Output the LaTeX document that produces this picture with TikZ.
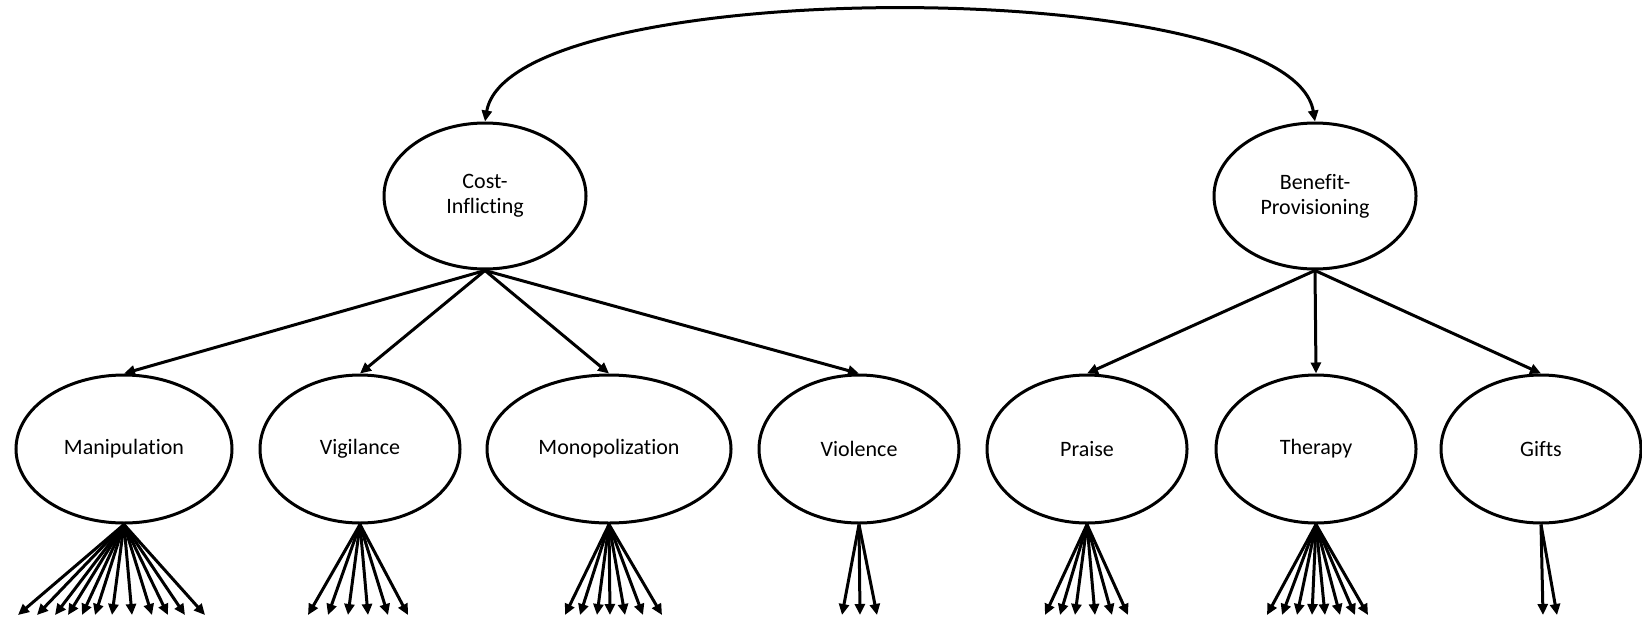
\documentclass[tikz,border=0pt]{standalone}
\usepackage{fontspec}
\setmainfont[Ligatures=NoCommon]{Carlito}
\usetikzlibrary{arrows.meta,shapes.geometric}
\begin{document}
\begin{tikzpicture}[x=0.5pt,y=-0.5pt,
  latent/.style={draw, line width=1.5pt, ellipse, inner sep=0pt, align=center,
    font=\fontsize{11}{12.5}\selectfont},
  arr/.style={line width=1.5pt, -{Triangle[length=5.5pt,width=5pt]}},
  darr/.style={line width=1.5pt, {Triangle[length=5.5pt,width=5pt]}-{Triangle[length=5.5pt,width=5pt]}}]
\useasboundingbox (0,0) rectangle (1642,621);
% top level
\node[latent, minimum width=101pt, minimum height=73pt] (cost) at (485,196) {Cost-\\Inflicting};
\node[latent, minimum width=101pt, minimum height=73pt] (ben) at (1315,196) {Benefit-\\Provisioning};
% second level
\node[latent, minimum width=108pt, minimum height=74pt] (man) at (124,449) {Manipulation};
\node[latent, minimum width=100pt, minimum height=74pt] (vig) at (360,449) {Vigilance};
\node[latent, minimum width=122pt, minimum height=74pt] (mon) at (609,449) {Monopolization};
\node[latent, minimum width=100pt, minimum height=74pt] (vio) at (859,449) {Violence};
\node[latent, minimum width=100pt, minimum height=74pt] (pra) at (1087,449) {Praise};
\node[latent, minimum width=100pt, minimum height=74pt] (the) at (1316,449) {Therapy};
\node[latent, minimum width=100pt, minimum height=74pt] (gif) at (1541,449) {Gifts};
% correlation
\draw[darr] (cost.north) .. controls (510,-27) and (1290,-27) .. (ben.north);
% loadings
\foreach \t in {man,vig,mon,vio} \draw[arr] (cost.south) -- (\t.north);
\foreach \t in {pra,the,gif} \draw[arr] (ben.south) -- (\t.north);
% indicator fans
\foreach \x [count=\i] in {18,37,55,68,82,95,112,132,152,168,185,205}
  {\coordinate (mi\i) at (\x,615); \draw[arr] (man.south) -- (mi\i);}
\foreach \x [count=\i] in {308,328,348,368,388,408}
  {\coordinate (vi\i) at (\x,615); \draw[arr] (vig.south) -- (vi\i);}
\foreach \x [count=\i] in {565,580,597,610,625,643,662}
  {\coordinate (mo\i) at (\x,615); \draw[arr] (mon.south) -- (mo\i);}
\foreach \x [count=\i] in {842,860,877}
  {\coordinate (vo\i) at (\x,615); \draw[arr] (vio.south) -- (vo\i);}
\foreach \x [count=\i] in {1045,1060,1075,1095,1112,1128}
  {\coordinate (pr\i) at (\x,615); \draw[arr] (pra.south) -- (pr\i);}
\foreach \x [count=\i] in {1267,1282,1297,1312,1325,1340,1355,1368}
  {\coordinate (th\i) at (\x,615); \draw[arr] (the.south) -- (th\i);}
\foreach \x [count=\i] in {1543,1557}
  {\coordinate (gi\i) at (\x,615); \draw[arr] (gif.south) -- (gi\i);}
\end{tikzpicture}
\end{document}
